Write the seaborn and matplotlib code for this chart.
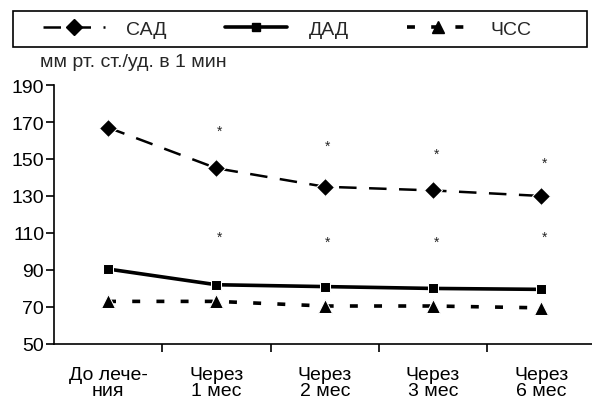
import matplotlib
matplotlib.use("Agg")
import matplotlib.pyplot as plt
from matplotlib.ticker import FixedLocator
from matplotlib.lines import Line2D
from matplotlib.patches import Rectangle
import pandas as pd
import seaborn as sns

sns.set_theme(style="white")
plt.rcParams['font.family'] = ['Liberation Sans', 'DejaVu Sans']

periods = ["До лече-\nния", "Через\n1 мес", "Через\n2 мес", "Через\n3 мес", "Через\n6 мес"]
sad = [167, 145, 135, 133, 130]
dad = [90.5, 82, 81, 80, 79.5]
hr = [73, 73, 70.5, 70.5, 69.5]
star_upper = [None, 165, 157, 153, 148]
star_lower = [None, 108, 105, 105, 108]
y_ticks = [50, 70, 90, 110, 130, 150, 170, 190]

df = pd.DataFrame({"period": periods, "САД": sad, "ДАД": dad, "ЧСС": hr})

fig = plt.figure(figsize=(5.92, 4.02), dpi=100)
ax = fig.add_axes([0.091, 0.142, 0.915, 0.644])

sns.lineplot(data=df, x="period", y="САД", ax=ax, color="black", lw=1.8,
             marker="D", markersize=9, sort=False)
ax.lines[-1].set_dashes([7, 5])
sns.lineplot(data=df, x="period", y="ДАД", ax=ax, color="black", lw=2.6,
             marker="s", markersize=7, sort=False)
sns.lineplot(data=df, x="period", y="ЧСС", ax=ax, color="black", lw=2.6,
             marker="^", markersize=10, sort=False)
ax.lines[-1].set_dashes([2.2, 4.5])

for i, (u, l) in enumerate(zip(star_upper, star_lower)):
    if u is not None:
        ax.text(i + 0.03, u, "*", ha="center", va="center", fontsize=10)
    if l is not None:
        ax.text(i + 0.03, l, "*", ha="center", va="center", fontsize=10)

ax.set_xlim(-0.5, 4.5)
ax.set_ylim(50, 190)
ax.set_yticks(y_ticks)
ax.set_xlabel("")
ax.set_ylabel("")
for s in ["top", "right"]:
    ax.spines[s].set_visible(False)
for s in ["left", "bottom"]:
    ax.spines[s].set_color("black")
    ax.spines[s].set_linewidth(1.2)
ax.tick_params(axis="y", which="major", direction="out", length=6, width=1.2,
               left=True, labelsize=14, pad=1, colors="black")
ax.tick_params(axis="x", which="major", length=0, labelsize=14, pad=16, colors="black")
ax.xaxis.set_minor_locator(FixedLocator([0.5, 1.5, 2.5, 3.5]))
ax.tick_params(axis="x", which="minor", direction="out", length=6, width=1.2,
               bottom=True, colors="black")
for lab in ax.get_xticklabels():
    lab.set_linespacing(0.95)

fig.text(0.068, 0.845, "мм рт. ст./уд. в 1 мин", fontsize=14, ha="left", va="center")

handles = [
    Line2D([], [], color="black", lw=1.8, marker="D", markersize=8, dashes=[7, 5]),
    Line2D([], [], color="black", lw=2.6, marker="s", markersize=6),
    Line2D([], [], color="black", lw=2.6, marker="^", markersize=9, dashes=[2.2, 4.5]),
]
fig.legend(handles, ["САД", "ДАД", "ЧСС"], loc="center", ncol=3,
           bbox_to_anchor=(0.485, 0.9255), frameon=False, fontsize=14,
           handlelength=3.2, handletextpad=1.1, columnspacing=3.0, borderaxespad=0)
fig.patches.append(Rectangle((0.022, 0.881), 0.97, 0.089, transform=fig.transFigure,
                             fill=False, edgecolor="black", lw=1.2))

fig.savefig("out.png", dpi=100)
